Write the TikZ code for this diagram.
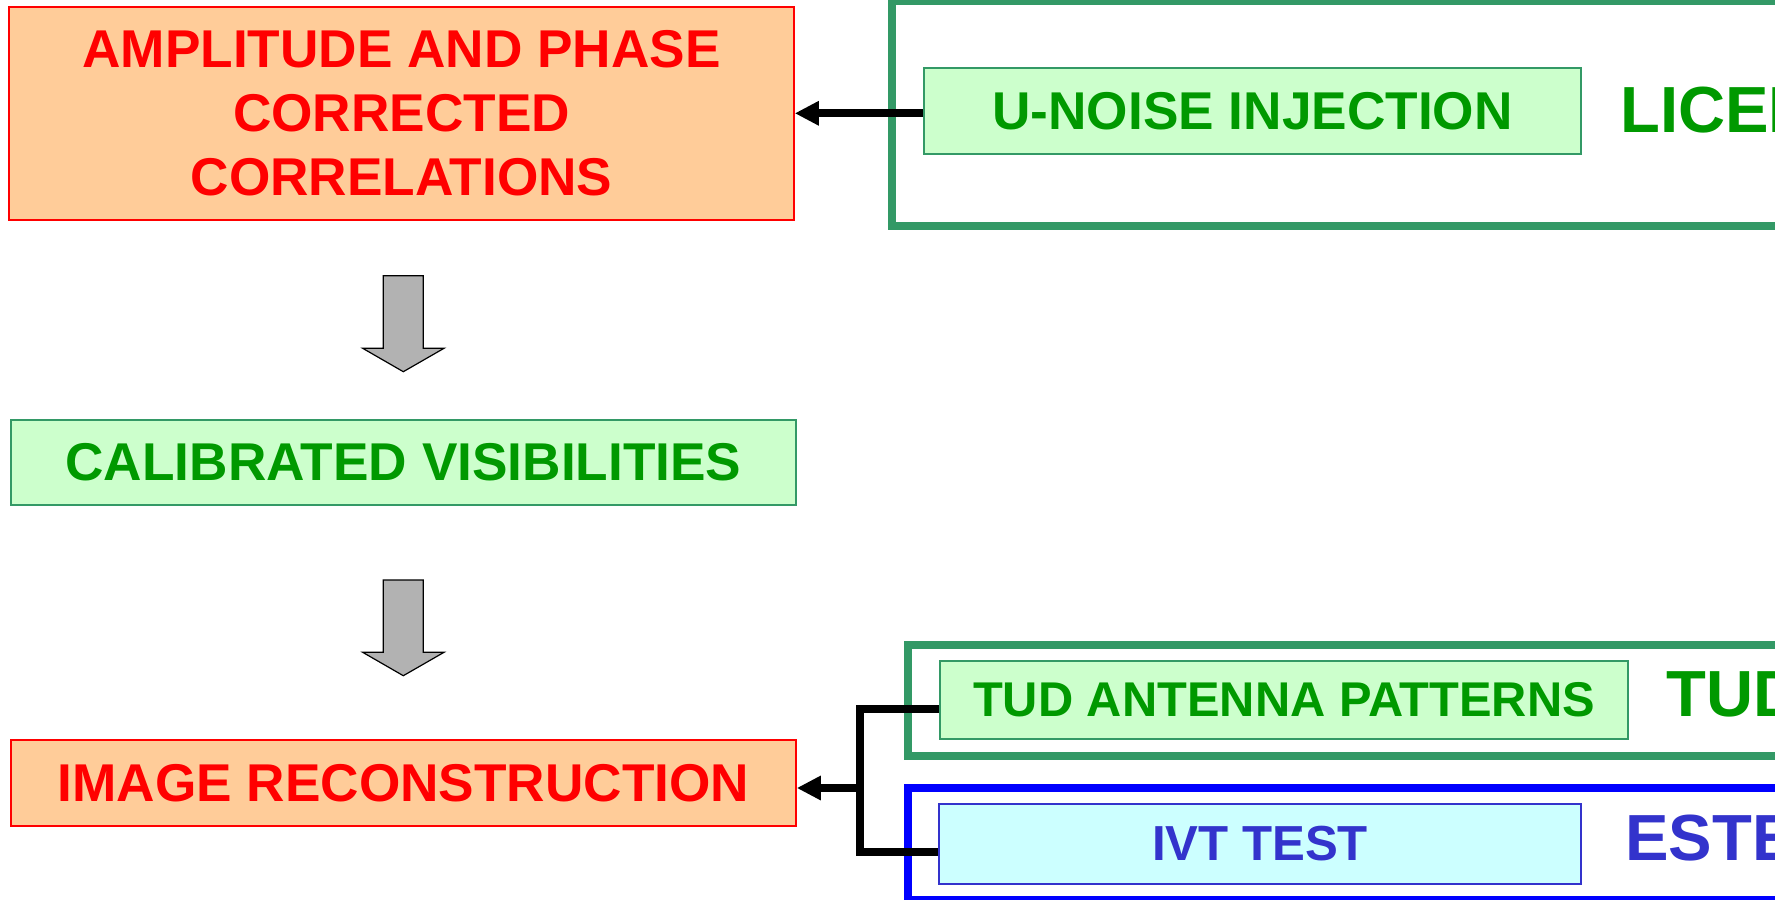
\documentclass[tikz,border=0pt]{standalone}
\usepackage{fontspec}
\setmainfont{Liberation Sans}
\usetikzlibrary{arrows.meta}
\definecolor{frgreen}{HTML}{339966}
\definecolor{txgreen}{HTML}{009900}
\definecolor{fillgreen}{HTML}{CCFFCC}
\definecolor{fillorange}{HTML}{FFCC99}
\definecolor{txred}{HTML}{FF0000}
\definecolor{fillcyan}{HTML}{CCFFFF}
\definecolor{txblue}{HTML}{3333CC}
\definecolor{frblue}{HTML}{0000FF}
\definecolor{arrgray}{HTML}{B2B2B2}
\tikzset{
  box/.style={draw, line width=0.8pt, inner sep=0pt, align=center, font=\bfseries\fontsize{26.6}{32}\selectfont},
  orangebox/.style={box, fill=fillorange, draw=txred, text=txred},
  greenbox/.style={box, fill=fillgreen, draw=frgreen, text=txgreen},
  cyanbox/.style={box, fill=fillcyan, draw=txblue, text=txblue},
  frame/.style={line width=4pt},
  biglabel/.style={inner sep=0pt, anchor=base west, font=\bfseries\fontsize{32.6}{36}\selectfont},
  blockarrow/.style={fill=arrgray, draw=black, line width=0.6pt, line join=miter},
  conn/.style={line width=3.8pt, draw=black},
  tip/.style={-{Triangle[length=12pt,width=11.5pt]}}
}
\begin{document}
\begin{tikzpicture}[x=0.5pt,y=-0.5pt]
\clip (0,0) rectangle (1775,899);
\fill[white] (0,0) rectangle (1775,899);
% frames
\draw[frame, draw=frgreen] (892,1.5) rectangle (1800,225.5);
\draw[frame, draw=frgreen] (908,644.5) rectangle (1800,756);
\draw[frame, draw=frblue] (908,788.3) rectangle (1800,900);
% left column
\node[orangebox, minimum width=392.5pt, minimum height=106.5pt] (A) at (401.5,113.5)
  {AMPLITUDE AND PHASE\\CORRECTED\\CORRELATIONS};
\node[greenbox, minimum width=392.5pt, minimum height=42.5pt] (B) at (403.5,462.5)
  {CALIBRATED VISIBILITIES};
\node[orangebox, minimum width=392.5pt, minimum height=43pt] (C) at (403.5,783)
  {IMAGE RECONSTRUCTION};
% right boxes
\node[greenbox, minimum width=328.5pt, minimum height=43pt] (U) at (1252.5,111)
  {U-NOISE INJECTION};
\node[greenbox, minimum width=344pt, minimum height=39pt, font=\bfseries\fontsize{24.4}{28}\selectfont] (T) at (1284,700)
  {TUD ANTENNA PATTERNS};
\node[cyanbox, minimum width=321pt, minimum height=40pt, font=\bfseries\fontsize{24.6}{28}\selectfont] (V) at (1260,844)
  {IVT TEST};
% big labels
\node[biglabel, text=txgreen] (licef) at (1620,132.7) {LICEF};
\node[biglabel, text=txgreen] (tud) at (1666,716) {TUD};
\node[biglabel, text=txblue] (estec) at (1625,860.7) {ESTEC};
% block arrows
\draw[blockarrow] (383.3,275.7) -- (423.3,275.7) -- (423.3,348.3) -- (444,348.3) -- (403.3,371.7)
  -- (362.7,348.3) -- (383.3,348.3) -- cycle;
\draw[blockarrow] (383.3,580) -- (423.3,580) -- (423.3,652.3) -- (444,652.3) -- (403.3,675.7)
  -- (362.7,652.3) -- (383.3,652.3) -- cycle;
% connectors
\draw[conn, tip] (U.west |- 0,113.3) -- (A.east |- 0,113.3);
\coordinate (jt) at (860,709);
\coordinate (jb) at (860,852);
\coordinate (jm) at (860,788);
\draw[conn, line join=miter] (T.west |- jt) -- (jt) -- (jb) -- (V.west |- jb);
\draw[conn, tip] (jm) -- (C.east |- jm);
\end{tikzpicture}
\end{document}
